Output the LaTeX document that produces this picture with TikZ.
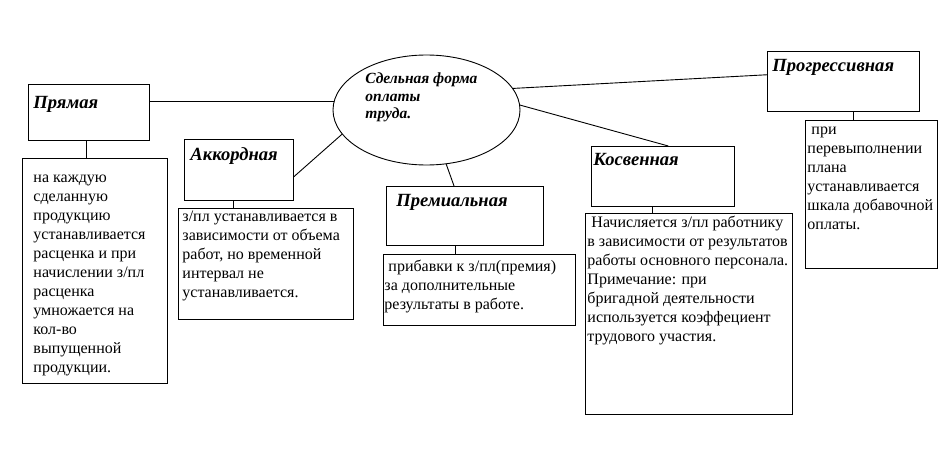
\documentclass[tikz,border=0pt]{standalone}
\usepackage{fontspec}
\setmainfont{Liberation Serif}
\usetikzlibrary{shapes.geometric}
\begin{document}
\begin{tikzpicture}[x=1pt,y=-1pt,line width=.9pt,
  box/.style={draw,anchor=north west,inner sep=0pt},
  head/.style={anchor=base west,inner sep=0pt,font=\fontsize{18.6}{22}\selectfont\bfseries\itshape},
  txt/.style={anchor=north west,inner sep=0pt,align=left,font=\fontsize{16}{19}\selectfont}]
\useasboundingbox (0,0) rectangle (943,460);
\node[draw,ellipse,minimum width=187,minimum height=110,inner sep=0pt] (ell) at (426.5,110) {};
\node[txt,font=\fontsize{15.5}{17.5}\selectfont\bfseries\itshape] (ell-txt) at (365,71) {\strut Сдельная форма\\оплаты\\труда.};
\node[box,minimum width=121,minimum height=56] (pr) at (28,84) {};
\node[box,minimum width=145,minimum height=225] (pr-d) at (22,158) {};
\node[box,minimum width=109,minimum height=61] (ak) at (184,139) {};
\node[box,minimum width=175,minimum height=111] (ak-d) at (178,208) {};
\node[box,minimum width=157,minimum height=59] (pm) at (386,186) {};
\node[box,minimum width=192,minimum height=71] (pm-d) at (383,254) {};
\node[box,minimum width=143,minimum height=60] (ks) at (591,146) {};
\node[box,minimum width=207,minimum height=201] (ks-d) at (585,213) {};
\node[box,minimum width=152,minimum height=60] (pg) at (767,51) {};
\node[box,minimum width=132,minimum height=148] (pg-d) at (805,120) {};
\node[head] (pr-h) at (33,109) {Прямая};
\node[head] (ak-h) at (190,160) {Аккордная};
\node[head] (pm-h) at (396,206) {Премиальная};
\node[head] (ks-h) at (593,165) {Косвенная};
\node[head] (pg-h) at (772,71) {Прогрессивная};
\node[txt] (pr-txt) at (33,168.7) {\strut на каждую\\сделанную\\продукцию\\устанавливается\\расценка и при\\начислении з/пл\\расценка\\умножается на\\кол-во\\выпущенной\\продукции.};
\node[txt] (ak-txt) at (182,207.7) {\strut з/пл устанавливается в\\зависимости от объема\\работ, но временной\\интервал не\\устанавливается.};
\node[txt] (pm-txt) at (384,257.7) {\strut\ прибавки к з/пл(премия)\\за дополнительные\\результаты в работе.};
\node[txt] (ks-txt) at (587,213.7) {\strut\ Начисляется з/пл работнику\\в зависимости от результатов\\работы основного персонала.\\Примечание: при\\бригадной деятельности\\используется коэффециент\\трудового участия.};
\node[txt] (pg-txt) at (807,120.7) {\strut\ при\\перевыполнении\\плана\\устанавливается\\шкала добавочной\\оплаты.};
\draw (ell.175) -- (ell.175 -| pr.east);
\draw (ak.-7) -- (ell.196);
\draw (ell.290) -- (pm.110);
\draw (ell.3) -- (ks.80);
\draw (ell.14) -- (pg.175);
\foreach \a/\s in {pr/-2.5,ak/-5.5,pm/-9.5,ks/-10.5,pg/10}
  \draw ([xshift=\s]\a.south) -- ([xshift=\s]\a.south |- \a-d.north);
\end{tikzpicture}
\end{document}
